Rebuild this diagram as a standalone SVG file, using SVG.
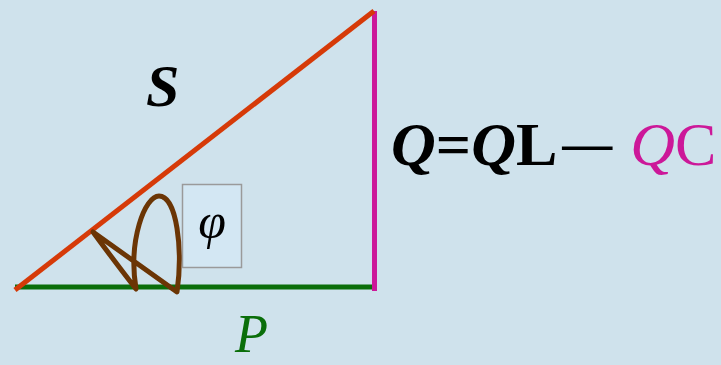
<svg xmlns="http://www.w3.org/2000/svg" width="721" height="365" viewBox="0 0 721 365">
<style>
.ser{font-family:"Liberation Serif","Times New Roman",serif}
.bi{font-weight:bold;font-style:italic}
</style>
<rect width="721" height="365" fill="#cfe2ec"/>
<g id="connectors" fill="none" stroke-width="5">
<line id="P-line" x1="15" y1="287" x2="374" y2="287" stroke="#0a6e0a"/>
<line id="Q-line" x1="374.5" y1="11" x2="374.5" y2="291" stroke="#cc1899"/>
<line id="S-line" x1="15" y1="290" x2="374" y2="11" stroke="#d63a08"/>
</g>
<g id="angle">
<path d="M93 232 Q 112 258 136 289 C 128 240 145 196 159 196 C 177 196 183 250 177 292 Z" fill="none" stroke="#6b3505" stroke-width="5" stroke-linejoin="round"/>
</g>
<g id="phi">
<rect x="182.5" y="184.5" width="59" height="83" fill="#d3e7f3" stroke="#9a9a9a" stroke-width="1.5"/>
<text x="212" y="238" class="ser" font-style="italic" font-size="50" text-anchor="middle">φ</text>
</g>
<g id="S">
<text x="146" y="106" class="ser bi" font-size="60">S</text>
</g>
<g id="P">
<text x="235" y="352" class="ser" font-style="italic" font-size="54" fill="#0a6e0a">P</text>
</g>
<g id="Q">
<text x="391" y="165" class="ser" font-size="62"><tspan class="bi">Q</tspan><tspan font-weight="bold">=</tspan><tspan class="bi">Q</tspan><tspan font-weight="bold">L</tspan><tspan font-weight="bold" font-size="50" dx="5" dy="-5">—</tspan><tspan fill="#cc1899" font-style="italic" dx="18" dy="5">Q</tspan><tspan fill="#cc1899">C</tspan></text>
</g>
</svg>
